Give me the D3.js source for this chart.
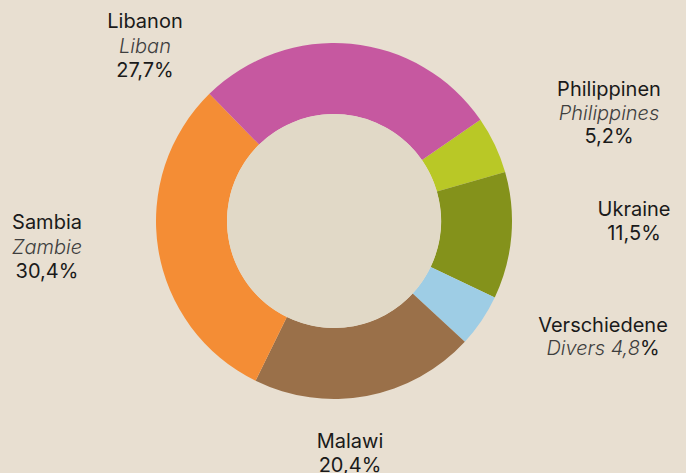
<!DOCTYPE html>
<html>
<head>
<meta charset="utf-8">
<script src="https://cdn.jsdelivr.net/npm/d3@7"></script>
<style>
  html, body { margin: 0; padding: 0; background: #e8dfd1; }
  svg { display: block; }
</style>
</head>
<body>
<div id="chart"></div>
<script>
// Donut: share by country (German / French labels)

const countries = ['Philippinen', 'Ukraine', 'Verschiedene', 'Malawi', 'Sambia', 'Libanon'];
const countriesFr = ['Philippines', '', 'Divers', '', 'Zambie', 'Liban'];
const shares = [5.2, 11.5, 4.8, 20.4, 30.4, 27.7];
const colors = ['#b9c826', '#84921b', '#9ecde5', '#9a7049', '#f48d35', '#c658a0'];

const width = 686;
const height = 473;
const cx = 334, cy = 221;
const outerR = 178, innerR = 107;

const svg = d3.select('#chart').append('svg')
    .attr('width', width)
    .attr('height', height);

const data = countries.map((c, i) => ({
    name: c,
    fr: countriesFr[i],
    value: shares[i],
    color: colors[i]
}));

const pie = d3.pie()
    .sort(null)
    .value(d => d.value)
    .startAngle(55.3 * Math.PI / 180)
    .endAngle(55.3 * Math.PI / 180 + 2 * Math.PI);

const arc = d3.arc()
    .innerRadius(innerR)
    .outerRadius(outerR);

const g = svg.append('g')
    .attr('transform', `translate(${cx},${cy})`);

g.selectAll('path.slice')
    .data(pie(data))
    .enter()
    .append('path')
    .attr('class', 'slice')
    .attr('d', arc)
    .attr('fill', d => d.data.color);

// hole is a touch darker than the page
g.append('circle')
    .attr('r', innerR)
    .attr('fill', '#e1d9c7');

const fmt = v => v.toFixed(1).replace('.', ',') + '%';

// label anchors (centre x, first baseline, line step)
const labelPos = {
    'Libanon':      { x: 145, y: 28,  step: 24.5 },
    'Philippinen':  { x: 609, y: 96,  step: 23.5 },
    'Ukraine':      { x: 634, y: 216, step: 23.5 },
    'Verschiedene': { x: 603, y: 332, step: 22.5 },
    'Sambia':       { x: 47,  y: 229, step: 24.5 },
    'Malawi':       { x: 350, y: 448, step: 24 }
};

const labels = svg.append('g')
    .style('font-family', 'Inter, Roboto, sans-serif')
    .style('font-size', '20px')
    .style('font-weight', '400')
    .attr('text-anchor', 'middle');

data.forEach(d => {
    const p = labelPos[d.name];
    const t = labels.append('text')
        .attr('x', p.x)
        .attr('y', p.y)
        .attr('fill', '#1a1a1a');
    t.append('tspan').attr('x', p.x).text(d.name);
    if (d.name === 'Verschiedene') {
        const line = t.append('tspan').attr('x', p.x).attr('dy', p.step);
        line.append('tspan')
            .style('font-style', 'italic')
            .style('font-weight', '300')
            .attr('fill', '#3e3e3e')
            .text(d.fr + ' ' + fmt(d.value).replace('%', ''));
        line.append('tspan').text('%');
        return;
    }
    if (d.fr) {
        t.append('tspan')
            .attr('x', p.x)
            .attr('dy', p.step)
            .style('font-style', 'italic')
            .style('font-weight', '300')
            .attr('fill', '#3e3e3e')
            .text(d.fr);
    }
    t.append('tspan')
        .attr('x', p.x)
        .attr('dy', p.step)
        .text(fmt(d.value));
});
</script>
</body>
</html>
